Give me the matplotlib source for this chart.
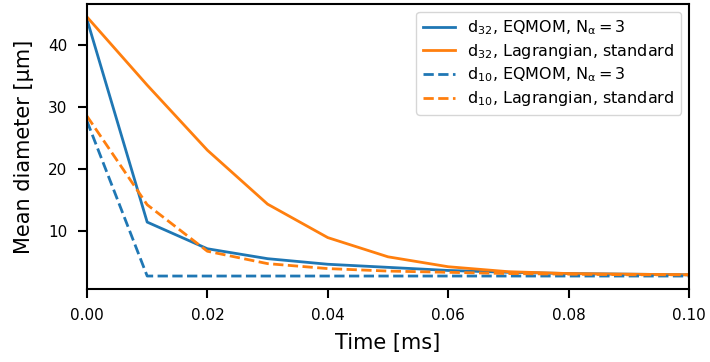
import matplotlib
matplotlib.use('Agg')
import matplotlib.pyplot as plt

# time [ms]
t = [0.00, 0.01, 0.02, 0.03, 0.04, 0.05, 0.06, 0.07, 0.08, 0.09, 0.10]

# mean diameters [um]
d32_eqmom = [44.2, 11.5, 7.2, 5.6, 4.7, 4.2, 3.7, 3.4, 3.2, 3.1, 3.0]
d32_lagr = [44.6, 33.6, 23.1, 14.4, 9.0, 5.9, 4.3, 3.5, 3.2, 3.1, 3.0]
d10_eqmom = [27.8, 2.8, 2.8, 2.8, 2.8, 2.8, 2.8, 2.8, 2.8, 2.8, 2.8]
d10_lagr = [28.6, 14.3, 6.8, 4.8, 4.0, 3.6, 3.4, 3.2, 3.1, 3.0, 3.0]

labels = [
    r'$\mathregular{d_{32}}$, EQMOM, $\mathregular{N_\alpha = 3}$',
    r'$\mathregular{d_{32}}$, Lagrangian, standard',
    r'$\mathregular{d_{10}}$, EQMOM, $\mathregular{N_\alpha = 3}$',
    r'$\mathregular{d_{10}}$, Lagrangian, standard',
]

blue = '#1f77b4'
orange = '#ff7f0e'

fig = plt.figure(figsize=(7.1, 3.62), dpi=100)
ax = fig.add_axes([0.1225, 0.2017, 0.8479, 0.7873])

ax.plot(t, d32_eqmom, color=blue, linewidth=2, label=labels[0])
ax.plot(t, d32_lagr, color=orange, linewidth=2, label=labels[1])
ax.plot(t, d10_eqmom, color=blue, linewidth=2, linestyle='--', label=labels[2])
ax.plot(t, d10_lagr, color=orange, linewidth=2, linestyle='--', label=labels[3])

ax.set_xlim(0, 0.1)
ax.set_xticks([0.0, 0.02, 0.04, 0.06, 0.08, 0.10])
ax.set_yticks([10, 20, 30, 40])
ax.tick_params(labelsize=11, width=1.5, length=6.5, pad=7.5)
for s in ax.spines.values():
    s.set_linewidth(1.5)

ax.set_xlabel('Time [ms]', fontsize=15, labelpad=7)
ax.set_ylabel('Mean diameter [μm]', fontsize=15, labelpad=10)
ax.legend(loc='upper right', fontsize=11.5, handlelength=2.0, labelspacing=0.3)

fig.savefig('out.png', dpi=100)
